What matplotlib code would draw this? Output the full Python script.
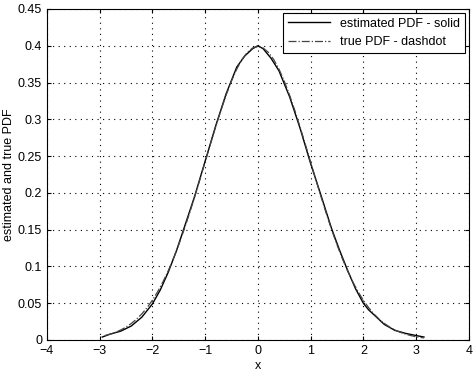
import matplotlib
matplotlib.use("Agg")
import matplotlib.pyplot as plt

x_true = [-2.9, -2.8, -2.7, -2.6, -2.5, -2.4, -2.3, -2.2, -2.1, -2.0,
          -1.9, -1.8, -1.7, -1.6, -1.5, -1.4, -1.3, -1.2, -1.1, -1.0,
          -0.9, -0.8, -0.7, -0.6, -0.5, -0.4, -0.3, -0.2, -0.1, 0.0,
          0.1, 0.2, 0.3, 0.4, 0.5, 0.6, 0.7, 0.8, 0.9, 1.0,
          1.1, 1.2, 1.3, 1.4, 1.5, 1.6, 1.7, 1.8, 1.9, 2.0,
          2.1, 2.2, 2.3, 2.4, 2.5, 2.6, 2.7, 2.8, 2.9, 3.0, 3.1, 3.15]
y_true = [0.0060, 0.0079, 0.0104, 0.0136, 0.0175, 0.0224, 0.0283, 0.0355, 0.0440, 0.0540,
          0.0656, 0.0790, 0.0940, 0.1109, 0.1295, 0.1497, 0.1714, 0.1942, 0.2179, 0.2420,
          0.2661, 0.2897, 0.3123, 0.3332, 0.3521, 0.3683, 0.3814, 0.3910, 0.3970, 0.3989,
          0.3970, 0.3910, 0.3814, 0.3683, 0.3521, 0.3332, 0.3123, 0.2897, 0.2661, 0.2420,
          0.2179, 0.1942, 0.1714, 0.1497, 0.1295, 0.1109, 0.0940, 0.0790, 0.0656, 0.0540,
          0.0440, 0.0355, 0.0283, 0.0224, 0.0175, 0.0136, 0.0104, 0.0079, 0.0060, 0.0044, 0.0033, 0.0028]

x_est = [-2.95, -2.8, -2.6, -2.4, -2.2, -2.0, -1.85, -1.7, -1.55, -1.4, -1.2, -1.0,
         -0.8, -0.6, -0.4, -0.25, -0.1, 0.0, 0.1, 0.25, 0.4, 0.6, 0.8, 1.0,
         1.2, 1.4, 1.55, 1.7, 1.85, 2.0, 2.1, 2.25, 2.4, 2.6, 2.8, 3.0, 3.15]
y_est = [0.004, 0.008, 0.012, 0.019, 0.031, 0.049, 0.068, 0.092, 0.120, 0.152, 0.195, 0.243,
         0.291, 0.335, 0.371, 0.386, 0.396, 0.400, 0.396, 0.383, 0.366, 0.331, 0.288, 0.240,
         0.196, 0.151, 0.122, 0.095, 0.070, 0.050, 0.041, 0.031, 0.021, 0.013, 0.009, 0.006, 0.004]

plt.rcParams['font.family'] = ['Liberation Sans', 'DejaVu Sans']
fig = plt.figure(figsize=(4.74, 3.74), dpi=100)
ax = fig.add_axes([0.099, 0.091, 0.890, 0.885])
ax.plot(x_est, y_est, color='black', linewidth=1.0, linestyle='-', label='estimated PDF - solid')
ax.plot(x_true, y_true, color='#444444', linewidth=0.9, linestyle='-.', label='true PDF - dashdot')
ax.set_xlim(-4, 4)
ax.set_ylim(0, 0.45)
ax.set_xticks(range(-4, 5))
ax.set_yticks([0, 0.05, 0.1, 0.15, 0.2, 0.25, 0.3, 0.35, 0.4, 0.45])
ax.set_yticklabels(['0', '0.05', '0.1', '0.15', '0.2', '0.25', '0.3', '0.35', '0.4', '0.45'])
ax.grid(True, color='black', linestyle=(0, (1, 4)), linewidth=0.8)
ax.tick_params(direction='in', length=3, labelsize=9, colors='black', top=True, right=True)
for s in ax.spines.values():
    s.set_linewidth(0.8)
ax.set_xlabel('x', fontsize=9, labelpad=2)
ax.set_ylabel('estimated and true PDF', fontsize=9, labelpad=2)
leg = ax.legend(loc='upper right', fontsize=9, fancybox=False, framealpha=1,
                edgecolor='black', handlelength=3.4, borderaxespad=0.3)
leg.get_frame().set_linewidth(0.8)
fig.savefig('out.png', dpi=100)
